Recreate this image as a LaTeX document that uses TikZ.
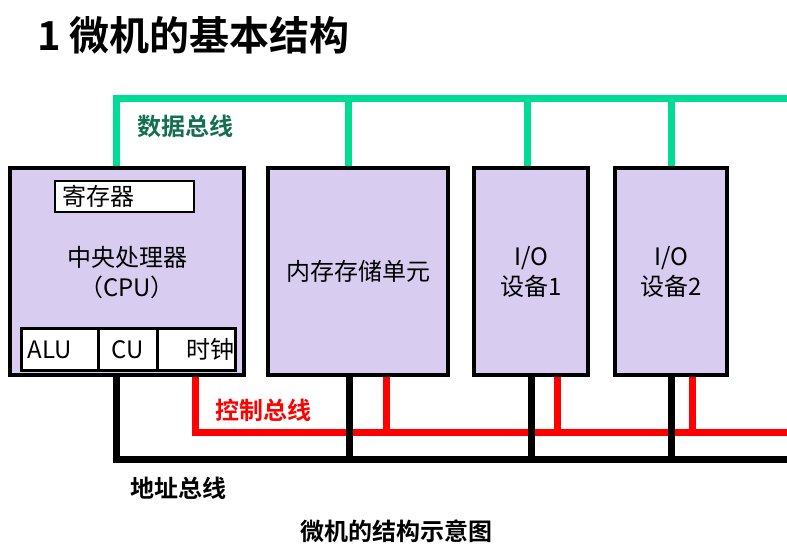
\documentclass[tikz,border=0pt]{standalone}
\usepackage{fontspec}
\setmainfont{Noto Sans CJK SC}[BoldFont={Noto Sans CJK SC Bold}]
\usetikzlibrary{positioning}
\definecolor{boxfill}{RGB}{216,204,240}
\definecolor{busgreen}{RGB}{0,220,150}
\definecolor{labelgreen}{RGB}{20,110,80}
\newcommand\txt[0]{\fontsize{24}{30}\selectfont}

\begin{document}
\begin{tikzpicture}[x=1pt,y=-1pt,
  unit/.style={draw=black,line width=4pt,fill=boxfill,minimum height=207,inner sep=0pt,align=center,font=\txt},
  cell/.style={draw=black,line width=2.5pt,fill=white,inner sep=0pt,font=\txt},
  databus/.style={busgreen,line width=7pt},
  ctrlbus/.style={red,line width=7pt},
  addrbus/.style={black,line width=7pt},
  buslabel/.style={font=\txt\bfseries}]

\useasboundingbox (0,0) rectangle (787,549);

\node[font=\fontsize{40}{46}\selectfont\bfseries, anchor=west, inner sep=0pt] (title) at (37,35) {1 微机的基本结构};

% units
\node[unit,minimum width=234] (cpu) at (127,271.5) {};
\node[unit,minimum width=180] (mem) at (358,271.5) {内存存储单元};
\node[unit,minimum width=114] (io1) at (531,271.5) {I/O\\设备1};
\node[unit,minimum width=112] (io2) at (671,271.5) {I/O\\设备2};

\node[align=center,font=\txt] (cputext) at (127,273) {中央处理器\\（CPU）};
\node[cell,minimum height=31,text width=125,inner xsep=7pt,align=left] (reg) at (124.5,196.5) {\raisebox{-2pt}{寄存器}};
\node[cell,line width=3pt,minimum height=42,text width=64.5,inner xsep=6pt,align=left] (alu) at (59.75,349.5) {ALU};
\node[cell,line width=3pt,minimum height=42,minimum width=59] (cu) at (127.5,349.5) {CU};
\node[cell,line width=3pt,minimum height=42,text width=76.5,inner xsep=1pt,align=right] (clk) at (196.25,349.5) {时钟};

% data bus
\coordinate (d0) at (116.5,98.5);
\coordinate (d1) at (348.5,98.5);
\coordinate (d2) at (527,98.5);
\coordinate (d3) at (671,98.5);
\draw[databus] (cpu.north -| d0) |- (787,98.5);
\draw[databus] (d1) -- (d1 |- mem.north);
\draw[databus] (d2) -- (d2 |- io1.north);
\draw[databus] (d3) -- (d3 |- io2.north);
\node[buslabel,labelgreen] (dlabel) at (185,126) {数据总线};

% control bus
\coordinate (c0) at (195,432);
\coordinate (c1) at (386,432);
\coordinate (c2) at (557,432);
\coordinate (c3) at (692,432);
\draw[ctrlbus] (cpu.south -| c0) |- (787,432);
\draw[ctrlbus] (c1) -- (c1 |- mem.south);
\draw[ctrlbus] (c2) -- (c2 |- io1.south);
\draw[ctrlbus] (c3) -- (c3 |- io2.south);
\node[buslabel,red] (clabel) at (263,410) {控制总线};

% address bus
\coordinate (a0) at (116.5,459.5);
\coordinate (a1) at (349,459.5);
\coordinate (a2) at (531,459.5);
\coordinate (a3) at (671,459.5);
\draw[addrbus] (cpu.south -| a0) |- (787,459.5);
\draw[addrbus] (a1) -- (a1 |- mem.south);
\draw[addrbus] (a2) -- (a2 |- io1.south);
\draw[addrbus] (a3) -- (a3 |- io2.south);
\node[buslabel] (alabel) at (178,488) {地址总线};

\node[font=\txt\bfseries] (caption) at (396,531) {微机的结构示意图};

\end{tikzpicture}
\end{document}
